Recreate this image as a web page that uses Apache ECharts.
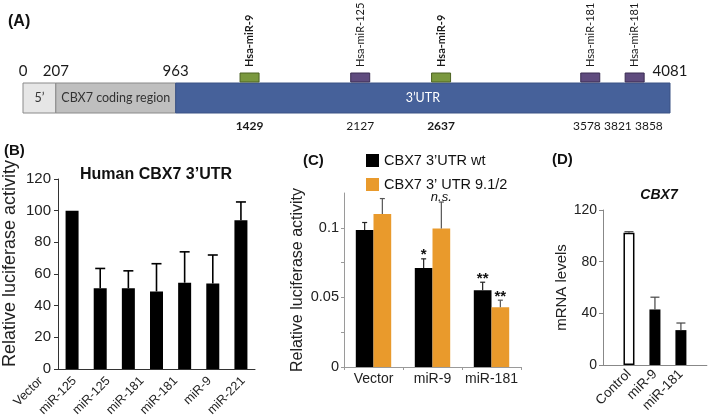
<!DOCTYPE html>
<html><head><meta charset="utf-8">
<script src="https://cdn.jsdelivr.net/npm/echarts@6/dist/echarts.min.js"></script>
<style>html,body{margin:0;padding:0;background:#fff}#c{width:709px;height:420px}</style>
</head><body><div id="c"></div>
<script>
// ---------- Panel A : CBX7 transcript schematic ----------
const geneLength = 4081;
const regionStarts = [0, 207, 963];
const regionEnds = [207, 963, 4081];
const regionNames = ['5’', 'CBX7 coding region', '3’UTR'];
const boundaryTicks = [0, 207, 963, 4081];
const siteNames = ['Hsa-miR-9', 'Hsa-miR-125', 'Hsa-miR-9', 'Hsa-miR-181', 'Hsa-miR-181'];
const sitePositions = [1429, 2127, 2637, 3578, 3858];
const positionLabels = [1429, 2127, 2637, 3578, 3821, 3858];
const highlightedPositions = [1429, 2637];
const highlightedMiR = 'Hsa-miR-9';

// ---------- Panel B : Human CBX7 3'UTR luciferase ----------
const bCategories = ['Vector', 'miR-125', 'miR-125', 'miR-181', 'miR-181', 'miR-9', 'miR-221'];
const bValues = [100, 51, 51, 49, 54.5, 54, 94];
const bErrors = [0, 12.5, 11, 17.5, 19.5, 18, 11.5];

// ---------- Panel C : wt vs mutant 3'UTR ----------
const cCategories = ['Vector', 'miR-9', 'miR-181'];
const cSeriesNames = ['CBX7 3’UTR wt', 'CBX7 3’ UTR 9.1/2'];
const cWt = [0.0985, 0.0712, 0.0551];
const cWtErr = [0.0053, 0.0065, 0.0058];
const cMut = [0.110, 0.0995, 0.043];
const cMutErr = [0.011, 0.019, 0.005];
const cWtMarks = ['', '*', '**'];
const cMutMarks = ['', 'n.s.', '**'];

// ---------- Panel D : CBX7 mRNA ----------
const dCategories = ['Control', 'miR-9', 'miR-181'];
const dValues = [102.4, 43, 27];
const dErrors = [0.8, 9.5, 5.5];

// ---------- styles ----------
const SANS = '"Liberation Sans", Arial, sans-serif';
const AF = 'Lato, "Open Sans", sans-serif';
const regionFill = ['#e6e6e6', '#bfbfbf', '#46619a'];
const regionStroke = ['#8a8a8a', '#8a8a8a', '#3a5284'];
const regionText = ['#333', '#333', '#ffffff'];
const ORANGE = '#e99a2c';

function errSeries(xAxisIndex, yAxisIndex, xs, vals, errs, opts) {
  return {
    type: 'custom', xAxisIndex, yAxisIndex, z: 5, silent: true,
    data: vals.map((v, i) => [xs[i], v, v + errs[i], i]),
    encode: { x: 0, y: [1, 2] },
    renderItem(params, api) {
      const i = api.value(3);
      const x = api.value(0);
      const base = api.coord([x, api.value(1)]);
      const top = api.coord([x, api.value(2)]);
      const cx = base[0] + (opts.offset ? opts.offset(api) : 0);
      const children = [];
      if (api.value(2) > api.value(1)) {
        children.push({ type: 'line', shape: { x1: cx, y1: base[1], x2: cx, y2: top[1] }, style: { stroke: opts.color, lineWidth: opts.lw } });
        children.push({ type: 'line', shape: { x1: cx - opts.cap / 2, y1: top[1], x2: cx + opts.cap / 2, y2: top[1] }, style: { stroke: opts.color, lineWidth: opts.lw } });
      }
      const m = opts.marks ? opts.marks[i] : '';
      if (m) {
        const isStar = m.indexOf('*') >= 0;
        children.push({ type: 'text', style: {
          x: cx, y: top[1] + (isStar ? 4 : 2), text: m, fill: '#111',
          font: isStar ? 'bold 15px ' + SANS : 'italic 13px ' + SANS,
          align: 'center', verticalAlign: 'bottom' } });
      }
      return { type: 'group', children };
    }
  };
}

// spread overlapping label x positions apart (keeps order)
function spread(xs, gap) {
  const out = xs.slice();
  for (let it = 0; it < 30; it++) {
    for (let k = 1; k < out.length; k++) {
      const d = out[k] - out[k - 1];
      if (d < gap) { const s = (gap - d) / 2; out[k - 1] -= s; out[k] += s; }
    }
  }
  return out;
}

const chart = echarts.init(document.getElementById('c'));
const option = {
  backgroundColor: '#fff',
  animation: false,
  legend: {
    data: cSeriesNames, orient: 'vertical', left: 361, top: 148,
    itemWidth: 13, itemHeight: 13, itemGap: 9, icon: 'rect',
    textStyle: { fontSize: 14.5, color: '#111', fontFamily: SANS, lineHeight: 13 }
  },
  graphic: [
    { type: 'text', x: 8, y: 14, style: { text: '(A)', font: 'bold 16px ' + SANS, fill: '#111' } },
    { type: 'text', x: 4, y: 143, style: { text: '(B)', font: 'bold 15px ' + SANS, fill: '#111' } },
    { type: 'text', x: 156, y: 175, style: { text: 'Human CBX7 3’UTR', font: 'bold 16px ' + SANS, fill: '#111', align: 'center', verticalAlign: 'middle' } },
    { type: 'text', x: 303, y: 153, style: { text: '(C)', font: 'bold 15px ' + SANS, fill: '#111' } },
    { type: 'text', x: 552, y: 152, style: { text: '(D)', font: 'bold 15px ' + SANS, fill: '#111' } },
    { type: 'text', x: 659, y: 195, style: { text: 'CBX7', font: 'italic bold 14px ' + SANS, fill: '#111', align: 'center', verticalAlign: 'middle' } }
  ],
  grid: [
    { left: 23, right: 39, top: 83, height: 30 },                 // A
    { left: 57, right: 454, top: 179, bottom: 51 },               // B
    { left: 24, right: 449, top: 179, bottom: 51 },               // B labels
    { left: 344, right: 188, top: 193, bottom: 53 },              // C
    { left: 603, right: 1, top: 210, bottom: 55 }                 // D
  ],
  xAxis: [
    { gridIndex: 0, type: 'value', min: 0, max: geneLength, show: false },
    { gridIndex: 1, type: 'category', data: bCategories,
      axisLine: { lineStyle: { color: '#333', width: 1 } }, axisTick: { show: false }, axisLabel: { show: false } },
    { gridIndex: 2, type: 'category', data: bCategories,
      axisLine: { show: false }, axisTick: { show: false },
      axisLabel: { interval: 0, rotate: 45, margin: 10, fontSize: 12.5, color: '#222', fontFamily: SANS } },
    { gridIndex: 3, type: 'category', data: cCategories,
      axisLine: { lineStyle: { color: '#9a9a9a' } }, axisTick: { show: true, length: 3, lineStyle: { color: '#9a9a9a' } },
      axisLabel: { interval: 0, fontSize: 14, color: '#222', margin: 5, fontFamily: SANS } },
    { gridIndex: 4, type: 'value', min: 0, max: dCategories.length + 1, interval: 1,
      axisLine: { show: true, lineStyle: { color: '#888' } }, axisTick: { show: false }, splitLine: { show: false },
      axisLabel: { rotate: 45, margin: 7, fontSize: 13.5, color: '#222', fontFamily: SANS,
        formatter: v => dCategories[v - 1] || '' } }
  ],
  yAxis: [
    { gridIndex: 0, type: 'value', min: 0, max: 1, show: false },
    { gridIndex: 1, type: 'value', min: 0, max: 120, interval: 20,
      name: 'Relative luciferase activity', nameLocation: 'middle', nameGap: 39,
      nameTextStyle: { fontSize: 18, color: '#222', fontFamily: SANS, padding: [0, 0, 0, 21] },
      axisLine: { show: true, lineStyle: { color: '#333' } }, axisTick: { show: true, length: 4, lineStyle: { color: '#333' } },
      splitLine: { show: false }, axisLabel: { fontSize: 15, color: '#222', margin: 7, fontFamily: SANS } },
    { gridIndex: 2, type: 'value', show: false },
    { gridIndex: 3, type: 'value', min: 0, max: 0.125, interval: 0.025,
      name: 'Relative luciferase activity', nameLocation: 'middle', nameGap: 38,
      nameTextStyle: { fontSize: 16, color: '#222', fontFamily: SANS },
      axisLine: { show: true, lineStyle: { color: '#9a9a9a' } }, axisTick: { show: true, length: 3, lineStyle: { color: '#9a9a9a' } },
      splitLine: { show: false },
      axisLabel: { fontSize: 14.5, color: '#222', margin: 5, fontFamily: SANS, showMaxLabel: false,
        formatter: v => (Math.round(v * 1000) % 50 === 0 ? String(+v.toFixed(3)) : '') } },
    { gridIndex: 4, type: 'value', min: 0, max: 120, interval: 40,
      name: 'mRNA levels', nameLocation: 'middle', nameGap: 27,
      nameTextStyle: { fontSize: 15, color: '#222', fontFamily: SANS },
      axisLine: { show: true, lineStyle: { color: '#888' } }, axisTick: { show: true, length: 4, lineStyle: { color: '#888' } },
      splitLine: { show: false }, axisLabel: { fontSize: 14, color: '#222', margin: 6, fontFamily: SANS } }
  ],
  series: [
    // ----- A: regions -----
    { type: 'custom', xAxisIndex: 0, yAxisIndex: 0, silent: true,
      data: regionStarts.map((s, i) => [s, regionEnds[i], i]),
      encode: { x: [0, 1] },
      renderItem(params, api) {
        const i = api.value(2);
        const p0 = api.coord([api.value(0), 1]);
        const p1 = api.coord([api.value(1), 0]);
        return { type: 'group', children: [
          { type: 'rect', shape: { x: p0[0], y: p0[1], width: p1[0] - p0[0], height: p1[1] - p0[1] },
            style: { fill: regionFill[i], stroke: regionStroke[i], lineWidth: 1 } },
          { type: 'text', style: { x: (p0[0] + p1[0]) / 2, y: (p0[1] + p1[1]) / 2, text: regionNames[i],
            fill: regionText[i], font: '12.5px ' + AF, align: 'center', verticalAlign: 'middle' } }
        ] };
      } },
    // ----- A: miRNA sites -----
    { type: 'custom', xAxisIndex: 0, yAxisIndex: 0, silent: true,
      data: sitePositions.map((p, i) => [p, i]),
      encode: { x: 0 },
      renderItem(params, api) {
        const i = api.value(1);
        const c = api.coord([api.value(0), 1]);
        const hl = siteNames[i] === highlightedMiR;
        return { type: 'group', children: [
          { type: 'rect', shape: { x: c[0] - 9.5, y: c[1] - 10, width: 19, height: 9 },
            style: { fill: hl ? '#7a983e' : '#5f4b7e', stroke: hl ? '#4d6322' : '#3a2c52', lineWidth: 1 } },
          { type: 'text', x: c[0], y: c[1] - 16, rotation: Math.PI / 2,
            style: { x: 0, y: 0, text: siteNames[i], fill: '#1a1a1a', font: (hl ? 'bold ' : '') + '11px ' + AF,
              align: 'left', verticalAlign: 'middle' } }
        ] };
      } },
    // ----- A: region boundary coordinates -----
    { type: 'custom', xAxisIndex: 0, yAxisIndex: 0, silent: true,
      data: boundaryTicks.map(v => [v]),
      encode: { x: 0 },
      renderItem(params, api) {
        const c = api.coord([api.value(0), 1]);
        return { type: 'text', style: { x: c[0], y: c[1] - 12, text: String(api.value(0)), fill: '#1a1a1a',
          font: '15px ' + AF, align: 'center', verticalAlign: 'middle' } };
      } },
    // ----- A: site coordinates below the transcript -----
    { type: 'custom', xAxisIndex: 0, yAxisIndex: 0, silent: true,
      data: positionLabels.map((p, i) => [p, i]),
      encode: { x: 0 },
      renderItem(params, api) {
        const i = api.value(1);
        const xs = spread(positionLabels.map(p => api.coord([p, 0])[0]), 31);
        const y = api.coord([0, 0])[1] + 13;
        const p = positionLabels[i];
        return { type: 'text', style: { x: xs[i], y, text: String(p), fill: '#1a1a1a',
          font: (highlightedPositions.includes(p) ? 'bold ' : '') + '12px ' + AF, align: 'center', verticalAlign: 'middle' } };
      } },

    // ----- B -----
    { type: 'bar', xAxisIndex: 1, yAxisIndex: 1, data: bValues, barWidth: 13, itemStyle: { color: '#000' } },
    errSeries(1, 1, bCategories.map((c, i) => i), bValues, bErrors, { color: '#000', lw: 1.6, cap: 10 }),

    // ----- C -----
    { type: 'bar', name: cSeriesNames[0], xAxisIndex: 3, yAxisIndex: 3, data: cWt,
      barGap: '0%', barCategoryGap: '40%', itemStyle: { color: '#000' } },
    { type: 'bar', name: cSeriesNames[1], xAxisIndex: 3, yAxisIndex: 3, data: cMut,
      barGap: '0%', barCategoryGap: '40%', itemStyle: { color: ORANGE } },
    errSeries(3, 3, cCategories.map((c, i) => i), cWt, cWtErr,
      { color: '#222', lw: 1.2, cap: 5, marks: cWtMarks, offset: api => -api.size([1, 0])[0] * 0.6 / 4 }),
    errSeries(3, 3, cCategories.map((c, i) => i), cMut, cMutErr,
      { color: '#555', lw: 1.2, cap: 5, marks: cMutMarks, offset: api => api.size([1, 0])[0] * 0.6 / 4 }),

    // ----- D -----
    { type: 'bar', xAxisIndex: 4, yAxisIndex: 4, barWidth: 11,
      data: dValues.map((v, i) => ({ value: [i + 1, v],
        itemStyle: i === 0 ? { color: '#fff', borderColor: '#000', borderWidth: 1.5 } : { color: '#000' } })) },
    errSeries(4, 4, dCategories.map((c, i) => i + 1), dValues, dErrors, { color: '#444', lw: 1.2, cap: 9 })
  ]
};
chart.setOption(option);
</script>
</body></html>
